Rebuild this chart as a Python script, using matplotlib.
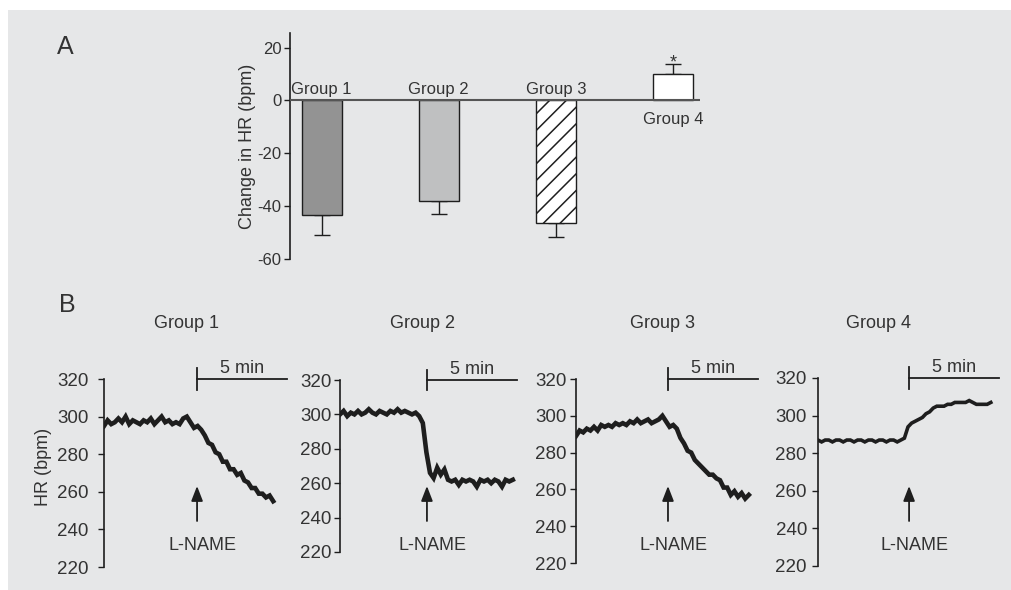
import numpy as np
import matplotlib.pyplot as plt
import matplotlib.transforms as mtransforms
from matplotlib.patches import Rectangle

plt.rcParams['font.family'] = ['Liberation Sans', 'DejaVu Sans']
plt.rcParams['hatch.linewidth'] = 1.1
plt.rcParams['axes.unicode_minus'] = False

W, H = 1011, 590
TXT = '#333333'
INK = '#1e1e1e'

# panel A: mean change in HR after L-NAME
groups = ['Group 1', 'Group 2', 'Group 3', 'Group 4']
change_hr = [-43.3, -37.9, -46.2, 10.1]
change_err = [7.8, 4.9, 5.3, 3.7]

# panel B: HR traces (bpm), sampled every 0.2 min
hr_g1 = [295, 298, 296, 297, 299, 297, 300, 296, 298, 297,
         296, 298, 297, 299, 296, 298, 300, 297, 298, 296,
         297, 296, 299, 300, 297, 294, 295, 293, 290, 286,
         285, 281, 280, 276, 276, 272, 272, 269, 270, 266,
         265, 262, 262, 259, 259, 257, 258, 255]
hr_g2 = [300, 302, 299, 301, 300, 302, 300, 301, 303, 301,
         300, 302, 301, 300, 302, 301, 303, 301, 302, 301,
         300, 301, 299, 295, 278, 266, 263, 269, 265, 268,
         262, 261, 262, 259, 262, 261, 262, 261, 258, 262,
         261, 262, 260, 262, 261, 258, 262, 261, 262]
hr_g3 = [289, 292, 291, 293, 292, 294, 292, 295, 294, 295,
         294, 296, 295, 296, 295, 297, 296, 298, 296, 297,
         298, 296, 297, 298, 300, 297, 294, 295, 293, 288,
         285, 281, 280, 276, 274, 272, 270, 268, 268, 266,
         265, 261, 261, 257, 259, 256, 258, 255, 257]
hr_g4 = [287, 286, 287, 287, 286, 287, 287, 286, 287, 287,
         286, 287, 287, 286, 287, 287, 286, 287, 287, 286,
         287, 287, 286, 287, 288, 294, 296, 297, 298, 299,
         301, 302, 304, 305, 305, 305, 306, 306, 307, 307,
         307, 307, 308, 307, 306, 306, 306, 306, 307]
traces = [hr_g1, hr_g2, hr_g3, hr_g4]
trace_end = [9.4, 9.6, 9.6, 9.6]
lname_time = [5.17, 4.83, 5.11, 5.06]
hr_ticks = [220, 240, 260, 280, 300, 320]

fig = plt.figure(figsize=(W / 100, H / 100), dpi=100, facecolor='white')
bg = Rectangle((8 / W, 0), 1, 1 - 10 / H, transform=fig.transFigure,
               facecolor='#e6e7e8', edgecolor='none', zorder=-10)
fig.add_artist(bg)


def px_axes(left, top, right, bottom):
    a = fig.add_axes([left / W, 1 - bottom / H, (right - left) / W, (bottom - top) / H])
    a.set_facecolor('none')
    return a


def only_left(a):
    for s in ['top', 'right', 'bottom']:
        a.spines[s].set_visible(False)
    a.spines['left'].set_color(INK)
    a.spines['left'].set_linewidth(1.2)
    a.set_xticks([])
    a.tick_params(axis='y', direction='out', length=4, width=1, color=INK, labelcolor=TXT)


# ---- panel A ----
ax = px_axes(290, 33, 700, 259)
x = np.arange(len(groups))
bars = ax.bar(x, change_hr, width=0.34, color=['#939393', '#bfc0c1', 'white', 'white'],
              edgecolor=INK, linewidth=1, zorder=2)
bars[2].set_hatch('//')
lower = [e if v < 0 else 0 for v, e in zip(change_hr, change_err)]
upper = [e if v > 0 else 0 for v, e in zip(change_hr, change_err)]
ax.errorbar(x, change_hr, yerr=[lower, upper], fmt='none', ecolor=INK, elinewidth=1,
            capsize=6, capthick=1, zorder=1)
ax.axhline(0, color='#555555', lw=1.5, zorder=3)
ax.set_xlim(-0.27, 3.23)
ax.set_ylim(-60, 25.5)
ax.set_yticks([-60, -40, -20, 0, 20])
only_left(ax)
ax.tick_params(axis='y', labelsize=12, pad=2)
for i, g in enumerate(groups):
    if change_hr[i] < 0:
        ax.text(x[i], 1.2, g, ha='center', va='bottom', fontsize=12, color=TXT)
    else:
        ax.text(x[i], -4.3, g, ha='center', va='top', fontsize=12, color=TXT)
ax.text(x[3], change_hr[3] + change_err[3] - 1.5, '*', ha='center', va='baseline',
        fontsize=13, color=TXT)
fig.text(247 / W, 1 - 146 / H, 'Change in HR (bpm)', rotation=90, ha='center',
         va='center', fontsize=13, color=TXT)
fig.text(65 / W, 1 - 47 / H, 'A', ha='center', va='center', fontsize=18, color=TXT)

# ---- panel B ----
fig.text(67 / W, 1 - 305 / H, 'B', ha='center', va='center', fontsize=18, color=TXT)
fig.text(43 / W, 1 - 467 / H, 'HR (bpm)', rotation=90, ha='center', va='center',
         fontsize=13, color=TXT)

# spine x, top px, bottom px, x max (min), title centre x, label pad
layout = [(104, 379, 567, 10.17, 187, 7),
          (340, 380, 552, 9.83, 423, 2),
          (576, 379, 563, 10.11, 662, 3),
          (818, 378, 566, 10.10, 878, 4)]

for k, (sx, top, bot, xmax, tx, pad) in enumerate(layout):
    b = px_axes(sx, top, sx + xmax * 18, bot)
    hr = traces[k]
    t = np.linspace(0, trace_end[k], len(hr))
    b.plot(t, hr, color=INK, lw=2.6 if k == 3 else 3.3, solid_joinstyle='miter')
    b.set_xlim(0, xmax)
    b.set_ylim(220, 320)
    b.set_yticks(hr_ticks)
    only_left(b)
    b.tick_params(axis='y', labelsize=13.5, pad=pad)

    t0 = lname_time[k]
    # 5 min scale bar
    b.plot([t0, t0 + 5], [320, 320], color=INK, lw=1.3, clip_on=False)
    b.plot([t0, t0], [314, 326], color=INK, lw=1.3, clip_on=False)
    b.text(t0 + 2.5, 321, '5 min', ha='center', va='bottom', fontsize=13, color=TXT)

    # L-NAME arrow
    tr = mtransforms.blended_transform_factory(b.transData, fig.transFigure)
    b.annotate('', xy=(t0, 1 - 486 / H), xytext=(t0, 1 - 521 / H), xycoords=tr,
               textcoords=tr, annotation_clip=False,
               arrowprops=dict(arrowstyle='-|>,head_length=0.9,head_width=0.35',
                               color=INK, lw=1.3, shrinkA=0, shrinkB=0))
    b.text(t0 + 0.3, 1 - 545 / H, 'L-NAME', transform=tr, ha='center', va='center',
           fontsize=13, color=TXT)

    fig.text(tx / W, 1 - 323 / H, groups[k], ha='center', va='center', fontsize=13,
             color=TXT)

fig.savefig('out.png', dpi=100, facecolor=fig.get_facecolor())
